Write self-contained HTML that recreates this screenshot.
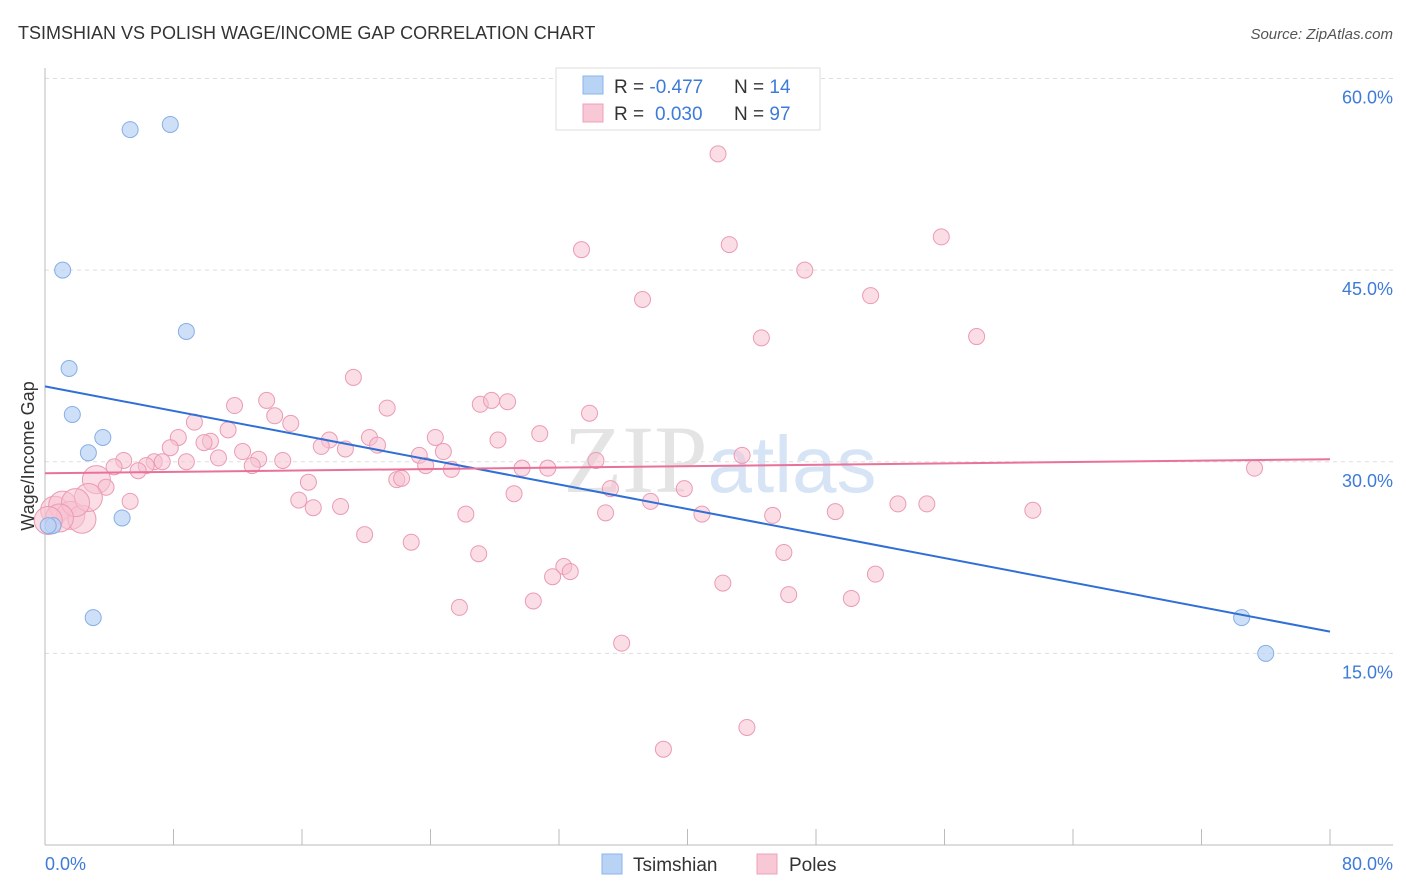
<!DOCTYPE html>
<html><head><meta charset="utf-8">
<style>
body{margin:0;background:#fff;font-family:"Liberation Sans",sans-serif;}
svg{display:block}
</style></head>
<body>
<svg id="chart" width="1406" height="892" viewBox="0 0 1406 892">
<text x="18" y="39" font-size="18" fill="#333">TSIMSHIAN VS POLISH WAGE/INCOME GAP CORRELATION CHART</text>
<text x="1393" y="39" font-size="15" fill="#555" font-style="italic" text-anchor="end">Source: ZipAtlas.com</text>
<text x="720" y="492" font-size="96" fill="#e4e4e4" text-anchor="middle" font-family="Liberation Serif,serif">ZIP<tspan fill="#d6e4f5" font-family="Liberation Sans,sans-serif" font-size="80">atlas</tspan></text>
<g id="grid"></g>
<g id="axes"></g>
<g id="marks"></g>
<text transform="translate(34,456) rotate(-90)" font-size="18" fill="#333" text-anchor="middle">Wage/Income Gap</text>
<g>
<rect x="556" y="68" width="264" height="62" fill="#fff" stroke="#ddd"/>
<rect x="583" y="76" width="20" height="18" fill="#b9d3f5" stroke="#8ab4ea"/>
<rect x="583" y="104" width="20" height="18" fill="#f9c8d6" stroke="#eea0b8"/>
<text x="614" y="93" font-size="19" fill="#333">R = <tspan fill="#3d7bd8">-0.477</tspan><tspan x="734">N = </tspan><tspan fill="#3d7bd8">14</tspan></text>
<text x="614" y="120" font-size="19" fill="#333">R = <tspan x="655" fill="#3d7bd8">0.030</tspan><tspan x="734">N = </tspan><tspan fill="#3d7bd8">97</tspan></text>
</g>
<g>
<rect x="602" y="854" width="20" height="20" fill="#b9d3f5" stroke="#8ab4ea"/>
<text x="633" y="871" font-size="19" fill="#333">Tsimshian</text>
<rect x="757" y="854" width="20" height="20" fill="#f9c8d6" stroke="#eea0b8"/>
<text x="789" y="871" font-size="19" fill="#333">Poles</text>
</g>
</svg>
<script>
const yTicks=[15,30,45,60];
const yTickLabels=["15.0%","30.0%","45.0%","60.0%"];
const xTickCount=10;
const blueX=[5.3,7.8,1.1,8.8,1.5,1.7,3.6,2.7,4.8,0.5,3.0,74.5,76.0,0.2];
const blueY=[56.0,56.4,45.0,40.2,37.3,33.7,31.9,30.7,25.6,25.0,17.8,17.8,15.0,25.0];
const pinkX=[41.9,42.6,33.4,55.8,47.3,37.2,51.4,44.6,58.0,19.2,13.8,11.8,21.3,14.3,15.3,9.3,27.1,27.8,28.8,33.9,11.4,8.3,10.3,7.8,9.9,17.7,17.2,18.7,20.2,20.7,24.3,24.8,28.2,30.8,4.9,6.8,7.3,6.3,4.3,5.8,8.8,10.8,12.3,13.3,12.9,14.8,23.3,23.7,25.3,29.7,31.3,34.3,43.4,75.3,3.2,3.8,16.4,21.9,22.2,15.8,16.7,18.4,5.3,29.2,35.2,39.8,37.7,26.2,34.9,40.9,45.3,49.2,53.1,54.9,61.5,19.9,22.8,27.0,46.0,32.3,31.6,32.7,51.7,42.2,46.3,50.2,30.4,25.8,35.9,43.7,38.5,0.6,1.1,1.6,2.3,2.7,1.9,0.9,0.2];
const pinkY=[54.1,47.0,46.6,47.6,45.0,42.7,43.0,39.7,39.8,36.6,34.8,34.4,34.2,33.6,33.0,33.1,34.5,34.8,34.7,33.8,32.5,31.9,31.6,31.1,31.5,31.7,31.2,31.0,31.9,31.3,31.9,30.8,31.7,32.2,30.1,30.0,30.0,29.7,29.6,29.3,30.0,30.3,30.8,30.2,29.7,30.1,30.5,29.7,29.4,29.5,29.5,30.1,30.5,29.5,28.6,28.0,28.4,28.6,28.7,27.0,26.4,26.5,26.9,27.5,27.9,27.9,26.9,25.9,26.0,25.9,25.8,26.1,26.7,26.7,26.2,24.3,23.7,22.8,22.9,21.8,21.0,21.4,21.2,20.5,19.6,19.3,19.1,18.6,15.8,9.2,7.5,26.2,26.6,25.8,25.5,27.2,26.8,25.6,25.4];
const pinkBig=[0,0,0,0,0,0,0,0,0,0,0,0,0,0,0,0,0,0,0,0,0,0,0,0,0,0,0,0,0,0,0,0,0,0,0,0,0,0,0,0,0,0,0,0,0,0,0,0,0,0,0,0,0,0,1,0,0,0,0,0,0,0,0,0,0,0,0,0,0,0,0,0,0,0,0,0,0,0,0,0,0,0,0,0,0,0,0,0,0,0,0,1,1,1,1,1,1,1,1];
const trendX=[0,80];
const blueTrendY=[35.9,16.7];
const pinkTrendY=[29.1,30.2];
const X=v=>45+v*1285/80;
const Y=v=>845-v*766.5/60;
const NS="http://www.w3.org/2000/svg";
function mk(tag,attrs,parent){const e=document.createElementNS(NS,tag);for(const k in attrs)e.setAttribute(k,attrs[k]);parent.appendChild(e);return e;}
const grid=document.getElementById('grid'),axes=document.getElementById('axes'),marks=document.getElementById('marks');
yTicks.forEach((t,i)=>{
 const l=mk('line',{x1:45,x2:1393,y1:Y(t),y2:Y(t),stroke:'#ddd','stroke-dasharray':'4,4'},grid);
 
 
 const tx=mk('text',{x:1393,y:Y(t)+25,'font-size':18,fill:'#3d7bd8','text-anchor':'end'},axes);
 tx.textContent=yTickLabels[i];
 
 
});
const la=mk('line',{x1:45,x2:45,y1:68,y2:845,stroke:'#bbb'},axes);


const ba=mk('line',{x1:45,x2:1393,y1:845,y2:845,stroke:'#bbb'},axes);


for(let i=0;i<=xTickCount;i++){
 const tk=mk('line',{x1:X(i*8),x2:X(i*8),y1:829,y2:845,stroke:'#bbb'},axes);
 
 
}
const x0=mk('text',{x:45,y:870,'font-size':18,fill:'#3d7bd8'},axes);x0.textContent='0.0%';


const x1=mk('text',{x:1393,y:870,'font-size':18,fill:'#3d7bd8','text-anchor':'end'},axes);x1.textContent='80.0%';


pinkX.forEach((v,i)=>{
 const c=mk('circle',{cx:X(v),cy:Y(pinkY[i]),r:pinkBig[i]?14:8,fill:'#f7c1d1','fill-opacity':0.55,stroke:'#eb9bb4','stroke-width':1},marks);
 
 
});
blueX.forEach((v,i)=>{
 const c=mk('circle',{cx:X(v),cy:Y(blueY[i]),r:8,fill:'#b9d3f5','fill-opacity':0.7,stroke:'#86aee6','stroke-width':1},marks);
 
 
});
const bl=mk('line',{x1:X(trendX[0]),x2:X(trendX[1]),y1:Y(blueTrendY[0]),y2:Y(blueTrendY[1]),stroke:'#2f6fd6','stroke-width':2},marks);


const pl=mk('line',{x1:X(trendX[0]),x2:X(trendX[1]),y1:Y(pinkTrendY[0]),y2:Y(pinkTrendY[1]),stroke:'#e8729a','stroke-width':2},marks);


</script>
</body></html>
